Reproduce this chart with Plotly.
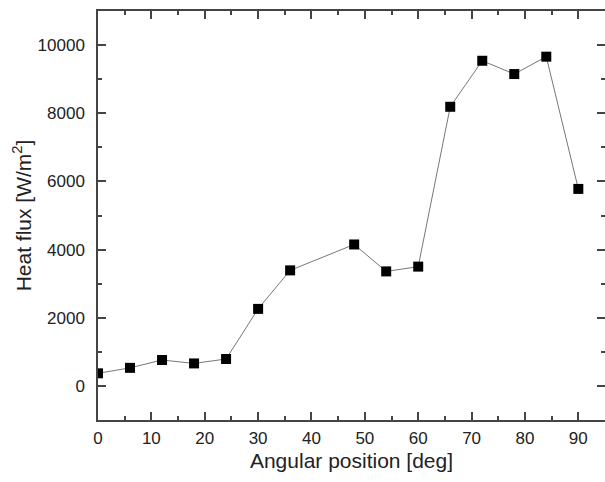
import plotly.graph_objects as go

angle_deg = [0, 6, 12, 18, 24, 30, 36, 48, 54, 60, 66, 72, 78, 84, 90]
heat_flux = [370, 530, 760, 660, 790, 2260, 3390, 4150, 3360, 3500, 8190, 9540, 9150, 9660, 5780]

x_title = "Angular position [deg]"
y_title = "Heat flux [W/m<sup>2</sup>]"

axis_color = "#444444"
text_color = "#222222"
font_family = "Liberation Sans, Arial, sans-serif"

fig = go.Figure()
fig.add_trace(go.Scatter(
    x=angle_deg, y=heat_flux, mode="lines+markers",
    line=dict(color="#777777", width=1),
    marker=dict(symbol="square", size=10, color="black"),
    showlegend=False,
))

common = dict(
    showline=True, linecolor=axis_color, linewidth=1.5, mirror="ticks",
    ticks="inside", ticklen=8, tickwidth=1.5, tickcolor=axis_color,
    showgrid=False, zeroline=False, automargin=False,
    tickfont=dict(size=17, color=text_color, family=font_family),
)

fig.update_xaxes(
    range=[0, 95], tick0=0, dtick=10, tickformat="d",
    minor=dict(dtick=5, ticks="inside", ticklen=4, tickwidth=1.5, tickcolor=axis_color, showgrid=False),
    title=dict(text=x_title, font=dict(size=21, color=text_color, family=font_family), standoff=6),
    ticklabelstandoff=2,
    **common,
)
fig.update_yaxes(
    range=[-1000, 11000], tick0=0, dtick=2000, tickformat="d",
    minor=dict(dtick=1000, ticks="inside", ticklen=4, tickwidth=1.5, tickcolor=axis_color, showgrid=False),
    title=dict(text=y_title, font=dict(size=21, color=text_color, family=font_family), standoff=0),
    ticklabelstandoff=8,
    **common,
)

fig.update_layout(
    width=605, height=482,
    margin=dict(l=98, r=0, t=11, b=62),
    plot_bgcolor="white", paper_bgcolor="white",
    font=dict(family=font_family),
)

fig.write_html(
    "out.html",
    config={"displayModeBar": False},
    post_script="document.body.style.margin='0';document.body.style.overflow='hidden';",
)
